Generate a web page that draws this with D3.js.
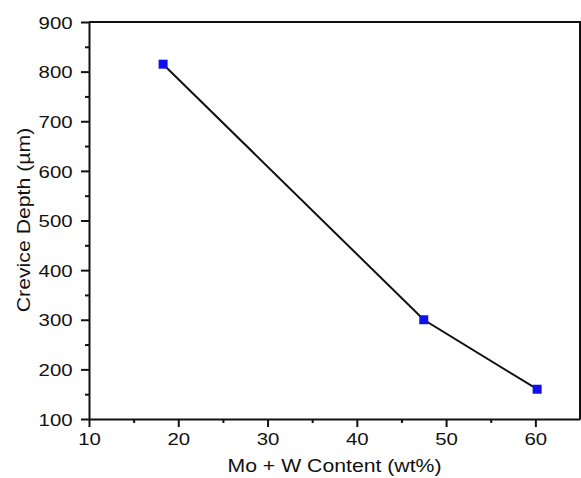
<!DOCTYPE html>
<html>
<head>
<meta charset="utf-8">
<script src="https://cdn.jsdelivr.net/npm/d3@7"></script>
<style>
  body { margin: 0; background: #fff; }
  text { font-family: "Liberation Sans", Arial, sans-serif; fill: #111; }
</style>
</head>
<body>
<script>
// data
var content = [18.3, 47.5, 60.2];      // Mo + W content (wt%)
var depth = [815, 300, 160];           // crevice depth (um)
var xTicks = [10, 20, 30, 40, 50, 60];
var yTicks = [100, 200, 300, 400, 500, 600, 700, 800, 900];

var svgWidth = 581, svgHeight = 478;
var margin = {top: 22, right: 1, bottom: 59, left: 89};
var chartWidth = svgWidth - margin.left - margin.right;
var chartHeight = svgHeight - margin.top - margin.bottom;

var svg = d3.select("body").append("svg")
  .attr("width", svgWidth)
  .attr("height", svgHeight);

var chartGroup = svg.append("g")
  .attr("transform", `translate(${margin.left}, ${margin.top})`);

var x = d3.scaleLinear().domain([10, 65]).range([0, chartWidth]);
var y = d3.scaleLinear().domain([100, 900]).range([chartHeight, 0]);

// frame (top + right)
chartGroup.append("path")
  .attr("d", `M0,0H${chartWidth}V${chartHeight}`)
  .attr("fill", "none")
  .attr("stroke", "#111")
  .attr("stroke-width", 2);

// minor ticks
var xMinor = d3.range(15, 65, 10);
var yMinor = d3.range(150, 900, 100);

var xAxis = chartGroup.append("g")
  .attr("transform", `translate(0, ${chartHeight})`)
  .call(d3.axisBottom(x).tickValues(xTicks).tickSize(8).tickSizeOuter(0).tickPadding(6));
xAxis.selectAll(".tick").filter(d => false);
chartGroup.append("g")
  .attr("transform", `translate(0, ${chartHeight})`)
  .call(d3.axisBottom(x).tickValues(xMinor).tickSize(4).tickSizeOuter(0).tickFormat(""))
  .select(".domain").remove();

var yAxis = chartGroup.append("g")
  .call(d3.axisLeft(y).tickValues(yTicks).tickSize(8).tickSizeOuter(0).tickPadding(4));
chartGroup.append("g")
  .call(d3.axisLeft(y).tickValues(yMinor).tickSize(4).tickSizeOuter(0).tickFormat(""))
  .select(".domain").remove();

chartGroup.selectAll(".domain").attr("stroke", "#111").attr("stroke-width", 2);
chartGroup.selectAll(".tick line").attr("stroke", "#111").attr("stroke-width", 2);

xAxis.selectAll("text")
  .attr("font-size", 17)
  .attr("font-family", "Liberation Sans, Arial, sans-serif")
  .attr("transform", "scale(1.2,1)");
yAxis.selectAll("text")
  .attr("font-size", 17)
  .attr("font-family", "Liberation Sans, Arial, sans-serif")
  .attr("dy", "0.36em")
  .attr("transform", "translate(-2,0) scale(1.2,1)");

// line + markers
var pts = content.map((c, i) => [c, depth[i]]);
chartGroup.append("path")
  .datum(pts)
  .attr("fill", "none")
  .attr("stroke", "#111")
  .attr("stroke-width", 2)
  .attr("d", d3.line().x(d => x(d[0])).y(d => y(d[1])));

var size = 9;
chartGroup.selectAll(".marker")
  .data(pts)
  .enter()
  .append("rect")
    .attr("class", "marker")
    .attr("x", d => x(d[0]) - size / 2)
    .attr("y", d => y(d[1]) - size / 2)
    .attr("width", size)
    .attr("height", size)
    .attr("fill", "#1010ee");

// axis titles
svg.append("text")
  .attr("transform", `translate(${margin.left + x(37.5)}, 472) scale(1.18,1)`)
  .attr("text-anchor", "middle")
  .attr("font-size", 18)
  .text("Mo + W Content (wt%)");

svg.append("text")
  .attr("transform", `translate(30, 220) rotate(-90) scale(1.18,1)`)
  .attr("text-anchor", "middle")
  .attr("font-size", 18)
  .text("Crevice Depth (µm)");
</script>
</body>
</html>
